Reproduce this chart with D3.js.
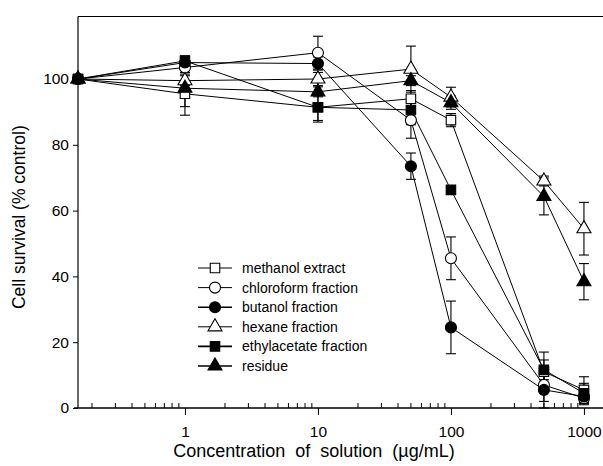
<!DOCTYPE html>
<html>
<head>
<meta charset="utf-8">
<script src="https://cdn.jsdelivr.net/npm/d3@7"></script>
<style>
  body { margin: 0; background: #fff; }
  svg { display: block; font-family: "Liberation Sans", Arial, sans-serif; }
</style>
</head>
<body>
<div id="chart"></div>
<script>
// concentration (ug/mL); first entry is the control, drawn on the y axis
const conc = [0.157, 1, 10, 50, 100, 500, 1000];

const methanol      = [100, 95.5, 91.4, 94.0, 87.5, 11.0, 5.5];
const methanolErr   = [0, 6.5, 4.5, 2.5, 2, 6, 4];
const chloroform    = [100, 103.5, 108.0, 87.5, 45.5, 7.0, 3.0];
const chloroformErr = [0, 2, 5, 5.5, 6.5, 5, 2];
const butanol       = [100, 105.0, 104.7, 73.5, 24.5, 5.5, 3.5];
const butanolErr    = [0, 2, 2, 4, 8, 5.5, 2];
const hexane        = [100, 99.5, 100.0, 103.0, 94.5, 69.0, 54.5];
const hexaneErr     = [0, 1.5, 2, 7, 3, 1.5, 8];
const ethyl         = [100, 105.5, 91.4, 90.6, 66.3, 11.6, 4.5];
const ethylErr      = [0, 1.5, 4, 4.5, 0.5, 3, 3];
const residue       = [100, 97.2, 96.1, 99.5, 92.8, 64.3, 38.4];
const residueErr    = [0, 5.6, 1.5, 1.5, 2, 5.6, 5.5];

const seriesNames = ["methanol extract", "chloroform fraction", "butanol fraction",
                     "hexane fraction", "ethylacetate fraction", "residue"];
const yTicks = [0, 20, 40, 60, 80, 100];
const xMajor = [1, 10, 100, 1000];

const width = 603, height = 466;

// symbol + fill per series, same order as seriesNames
const series = [
  {name: seriesNames[0], y: methanol,   err: methanolErr,   sym: d3.symbolSquare,   filled: false},
  {name: seriesNames[1], y: chloroform, err: chloroformErr, sym: d3.symbolCircle,   filled: false},
  {name: seriesNames[2], y: butanol,    err: butanolErr,    sym: d3.symbolCircle,   filled: true},
  {name: seriesNames[3], y: hexane,     err: hexaneErr,     sym: d3.symbolTriangle, filled: false},
  {name: seriesNames[4], y: ethyl,      err: ethylErr,      sym: d3.symbolSquare,   filled: true},
  {name: seriesNames[5], y: residue,    err: residueErr,    sym: d3.symbolTriangle, filled: true}
];
function sizeOf(sym){
  if (sym === d3.symbolSquare) return 90;
  if (sym === d3.symbolCircle) return 95;
  return 85;
}

const x = d3.scaleLog().domain([0.157, 1500]).range([78, 78 + 133 * Math.log10(1500 / 0.157)]);
const y = d3.scaleLinear().domain([0, 119]).range([408, 16.5]);

const svg = d3.select("#chart").append("svg")
  .attr("width", width)
  .attr("height", height);

// frame: left axis line, top line, bottom line
svg.append("line").attr("x1", x(0.157)).attr("x2", x(0.157))
  .attr("y1", y(0)).attr("y2", y(119)).attr("stroke", "#000").attr("stroke-width", 1.2);
svg.append("line").attr("x1", x(0.157)).attr("x2", width)
  .attr("y1", y(119)).attr("y2", y(119)).attr("stroke", "#000").attr("stroke-width", 1.2);
svg.append("line").attr("x1", x(0.157) - 4).attr("x2", width)
  .attr("y1", y(0)).attr("y2", y(0)).attr("stroke", "#000").attr("stroke-width", 1.4);

// y axis
const yAxis = svg.append("g")
  .attr("transform", `translate(${x(0.157)},0)`)
  .call(d3.axisLeft(y).tickValues(yTicks).tickSize(5).tickPadding(4));
yAxis.select(".domain").remove();
yAxis.selectAll("text").attr("font-size", 15.5).attr("fill", "#000")
  .attr("font-family", "Liberation Sans, Arial, sans-serif");

// x axis: major ticks point down, minor ticks point up
const xAxis = svg.append("g")
  .attr("transform", `translate(0,${y(0)})`)
  .call(d3.axisBottom(x).tickValues(xMajor).tickSize(7).tickPadding(11)
    .tickFormat(d3.format("d")));
xAxis.select(".domain").remove();
xAxis.selectAll("text").attr("font-size", 15.5).attr("fill", "#000")
  .attr("font-family", "Liberation Sans, Arial, sans-serif");

const minor = [];
[0.1, 1, 10, 100].forEach(dec => {
  for (let k = 2; k <= 9; k++) minor.push(k * dec);
});
svg.append("g").selectAll("line")
  .data(minor.filter(v => v > 0.157 && v < 1500))
  .join("line")
  .attr("x1", d => x(d)).attr("x2", d => x(d))
  .attr("y1", y(0)).attr("y2", y(0) - 5)
  .attr("stroke", "#000").attr("stroke-width", 1);

// axis titles
svg.append("text")
  .attr("x", 314).attr("y", 457)
  .attr("text-anchor", "middle")
  .attr("font-size", 18)
  .attr("word-spacing", 5)
  .text("Concentration of solution (\u00b5g/mL)");
svg.append("text")
  .attr("transform", `translate(25,${y(58)}) rotate(-90)`)
  .attr("text-anchor", "middle")
  .attr("font-size", 17.5)
  .text("Cell survival (% control)");

// lines
const line = d3.line().x((d, i) => x(conc[i])).y(d => y(d));
svg.append("g").selectAll("path")
  .data(series)
  .join("path")
  .attr("d", s => line(s.y))
  .attr("fill", "none")
  .attr("stroke", "#000")
  .attr("stroke-width", 1);

// error bars
series.forEach(s => {
  const g = svg.append("g").attr("stroke", "#000").attr("stroke-width", 1.1);
  s.y.forEach((v, i) => {
    const e = s.err[i];
    if (!e) return;
    const cx = x(conc[i]);
    g.append("line").attr("x1", cx).attr("x2", cx).attr("y1", y(v - e)).attr("y2", y(v + e));
    g.append("line").attr("x1", cx - 5).attr("x2", cx + 5).attr("y1", y(v - e)).attr("y2", y(v - e));
    g.append("line").attr("x1", cx - 5).attr("x2", cx + 5).attr("y1", y(v + e)).attr("y2", y(v + e));
  });
});

// markers (butanol last so the shared control point shows as a filled circle)
const drawOrder = [0, 1, 3, 4, 5, 2];
drawOrder.forEach(k => {
  const s = series[k];
  svg.append("g").selectAll("path")
    .data(s.y)
    .join("path")
    .attr("transform", (d, i) => `translate(${x(conc[i])},${y(d)})`)
    .attr("d", d3.symbol(s.sym, sizeOf(s.sym)))
    .attr("fill", s.filled ? "#000" : "#fff")
    .attr("stroke", "#000")
    .attr("stroke-width", 1.1);
});

// legend
const legend = svg.append("g").attr("transform", "translate(198,268)");
const rows = legend.selectAll("g")
  .data(series)
  .join("g")
  .attr("transform", (d, i) => `translate(0,${i * 19.6})`);
rows.append("line")
  .attr("x1", 0).attr("x2", 34).attr("y1", 0).attr("y2", 0)
  .attr("stroke", "#000").attr("stroke-width", d => d.filled ? 1.6 : 1);
rows.append("path")
  .attr("transform", "translate(17,0)")
  .attr("d", d => d3.symbol(d.sym, sizeOf(d.sym))())
  .attr("fill", d => d.filled ? "#000" : "#fff")
  .attr("stroke", "#000")
  .attr("stroke-width", 1.1);
rows.append("text")
  .attr("x", 44).attr("y", 5)
  .attr("font-size", 14)
  .text(d => d.name);
</script>
</body>
</html>
